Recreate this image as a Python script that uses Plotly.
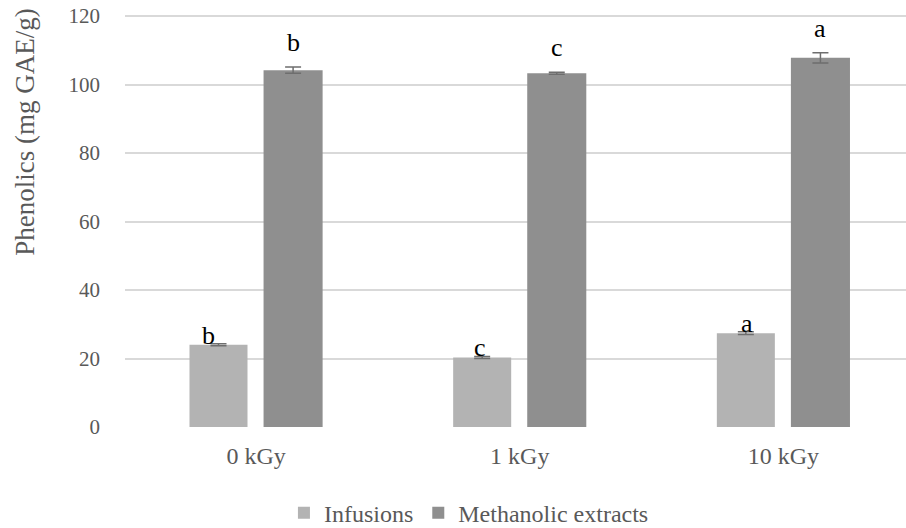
import plotly.graph_objects as go

categories = ["0 kGy", "1 kGy", "10 kGy"]
infusions = [24.0, 20.3, 27.4]
infusions_err = [0.3, 0.3, 0.4]
methanolic = [104.2, 103.3, 107.8]
methanolic_err = [0.9, 0.3, 1.5]
letters_inf = ["b", "c", "a"]
letters_met = ["b", "c", "a"]
y_ticks = [0, 20, 40, 60, 80, 100, 120]

FF = "Liberation Serif, Times New Roman, serif"
text_col = "#595959"

fig = go.Figure()
fig.add_trace(go.Bar(
    name="Infusions", x=categories, y=infusions,
    offset=-0.2524, width=0.22,
    marker=dict(color="#b3b3b3", line=dict(width=0)),
    error_y=dict(type="data", array=infusions_err, color="#6e6e6e", thickness=1.5, width=8),
))
fig.add_trace(go.Bar(
    name="Methanolic extracts", x=categories, y=methanolic,
    offset=0.0285, width=0.224,
    marker=dict(color="#8f8f8f", line=dict(width=0)),
    error_y=dict(type="data", array=methanolic_err, color="#6e6e6e", thickness=1.5, width=8),
))

inf_shift = [-10, -2, 1]
annotations = []
for i, (v, l) in enumerate(zip(infusions, letters_inf)):
    annotations.append(dict(x=i - 0.2524 + 0.11, y=v, text=l, showarrow=False, xref="x", yref="y",
                            xanchor="center", yanchor="bottom", xshift=inf_shift[i], yshift=-7,
                            font=dict(family=FF, size=26, color="#000000")))
for i, (v, e, l) in enumerate(zip(methanolic, methanolic_err, letters_met)):
    annotations.append(dict(x=i + 0.0285 + 0.112, y=v + e, text=l, showarrow=False, xref="x", yref="y",
                            xanchor="center", yanchor="bottom", yshift=8,
                            font=dict(family=FF, size=26, color="#000000")))
annotations.append(dict(text="Phenolics (mg GAE/g)", textangle=-90, showarrow=False,
                        xref="paper", yref="paper", x=0, y=0.714, xshift=-100,
                        xanchor="center", yanchor="middle",
                        font=dict(family=FF, size=27, color=text_col)))

fig.update_layout(
    width=906, height=528,
    margin=dict(l=125, r=0, t=15, b=101, autoexpand=False),
    paper_bgcolor="white", plot_bgcolor="white",
    barmode="overlay",
    font=dict(family=FF, size=21, color=text_col),
    showlegend=True,
    legend=dict(orientation="h", x=0.3134, xref="container", xanchor="left",
                y=-0.209, yref="paper", yanchor="middle",
                font=dict(family=FF, size=24, color=text_col),
                itemwidth=30, traceorder="normal", bgcolor="rgba(0,0,0,0)"),
    annotations=annotations,
    xaxis=dict(type="category", range=[-0.497, 2.465], showgrid=False, zeroline=False,
               showline=False, ticks="", ticklabelstandoff=12, automargin=False,
               tickfont=dict(family=FF, size=24, color=text_col)),
    yaxis=dict(range=[0, 120.3], tickvals=y_ticks, showgrid=True, gridcolor="#d9d9d9",
               gridwidth=1.5, zeroline=False, showline=False, ticks="",
               ticklabelstandoff=24, automargin=False,
               tickfont=dict(family=FF, size=21, color=text_col)),
)

fig.write_html("out.html", config={"displayModeBar": False},
               post_script="document.body.style.margin='0';document.body.style.overflow='hidden';")
